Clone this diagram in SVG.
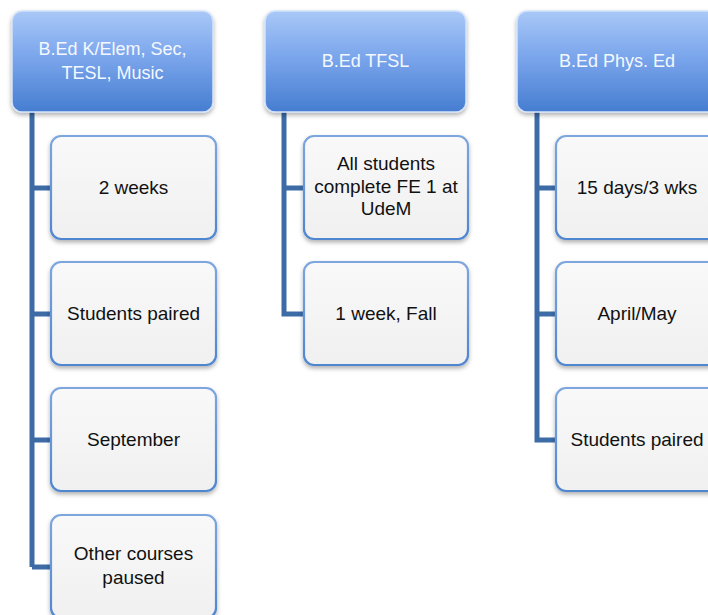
<svg xmlns="http://www.w3.org/2000/svg" width="708" height="615" viewBox="0 0 708 615">
  <defs>
    <linearGradient id="hdrFill" x1="0" y1="0" x2="0" y2="1">
      <stop offset="0" stop-color="#a9c8f7"/>
      <stop offset="0.45" stop-color="#7ba6ec"/>
      <stop offset="1" stop-color="#467dd0"/>
    </linearGradient>
    <linearGradient id="boxFill" x1="0" y1="0" x2="0" y2="1">
      <stop offset="0" stop-color="#f9f9f9"/>
      <stop offset="1" stop-color="#f0f0f0"/>
    </linearGradient>
    <linearGradient id="boxEdge" x1="0" y1="0" x2="0" y2="1">
      <stop offset="0" stop-color="#7ea6de"/>
      <stop offset="1" stop-color="#4f86d0"/>
    </linearGradient>
    <filter id="shadow" x="-10%" y="-10%" width="120%" height="130%">
      <feDropShadow dx="0" dy="2.5" stdDeviation="2" flood-color="#000" flood-opacity="0.3"/>
    </filter>
  </defs>
  <style>
    .hdr { fill: url(#hdrFill); stroke: #d4e3fa; stroke-width: 1.5; filter: url(#shadow); }
    .box { fill: url(#boxFill); stroke: url(#boxEdge); stroke-width: 2.2; filter: url(#shadow); }
    .hdr-text { font-family: "Liberation Sans", Arial, sans-serif; font-size: 18px; fill: #f4f8ff; text-anchor: middle; }
    .box-text { font-family: "Liberation Sans", Arial, sans-serif; font-size: 19px; fill: #111; text-anchor: middle; }
    .conn { fill: none; stroke: #3c6ba6; stroke-width: 5; stroke-linejoin: miter; }
  </style>

  <!-- tree connectors -->
  <g id="connectors">
    <path class="conn" d="M32,110 V567 M32,188 H52 M32,314 H52 M32,440 H52 M32,567 H52"/>
    <path class="conn" d="M284,110 V314 H305 M284,188 H305"/>
    <path class="conn" d="M537,110 V440 H557 M537,188 H557 M537,314 H557"/>
  </g>

  <!-- column 1 -->
  <g id="hdr-bed-kelem">
    <rect class="hdr" x="12" y="11" width="201" height="101" rx="10"/>
    <text class="hdr-text" x="112.5" y="55">B.Ed K/Elem, Sec,</text>
    <text class="hdr-text" x="112.5" y="79">TESL, Music</text>
  </g>
  <g id="kelem-2weeks">
    <rect class="box" x="51" y="136" width="165" height="103" rx="10"/>
    <text class="box-text" x="133.5" y="194">2 weeks</text>
  </g>
  <g id="kelem-paired">
    <rect class="box" x="51" y="262" width="165" height="103" rx="10"/>
    <text class="box-text" x="133.5" y="320">Students paired</text>
  </g>
  <g id="kelem-september">
    <rect class="box" x="51" y="388" width="165" height="103" rx="10"/>
    <text class="box-text" x="133.5" y="446">September</text>
  </g>
  <g id="kelem-paused">
    <rect class="box" x="51" y="515" width="165" height="103" rx="10"/>
    <text class="box-text" x="133.5" y="560">Other courses</text>
    <text class="box-text" x="133.5" y="584">paused</text>
  </g>

  <!-- column 2 -->
  <g id="hdr-bed-tfsl">
    <rect class="hdr" x="265" y="11" width="201" height="101" rx="10"/>
    <text class="hdr-text" x="365.5" y="67">B.Ed TFSL</text>
  </g>
  <g id="tfsl-udem">
    <rect class="box" x="304" y="136" width="164" height="103" rx="10"/>
    <text class="box-text" x="386" y="170">All students</text>
    <text class="box-text" x="386" y="193">complete FE 1 at</text>
    <text class="box-text" x="386" y="215">UdeM</text>
  </g>
  <g id="tfsl-fall">
    <rect class="box" x="304" y="262" width="164" height="103" rx="10"/>
    <text class="box-text" x="386" y="320">1 week, Fall</text>
  </g>

  <!-- column 3 -->
  <g id="hdr-bed-physed">
    <rect class="hdr" x="517" y="11" width="201" height="101" rx="10"/>
    <text class="hdr-text" x="617" y="67">B.Ed Phys. Ed</text>
  </g>
  <g id="physed-days">
    <rect class="box" x="556" y="136" width="165" height="103" rx="10"/>
    <text class="box-text" x="637" y="194">15 days/3 wks</text>
  </g>
  <g id="physed-aprilmay">
    <rect class="box" x="556" y="262" width="165" height="103" rx="10"/>
    <text class="box-text" x="637" y="320">April/May</text>
  </g>
  <g id="physed-paired">
    <rect class="box" x="556" y="388" width="165" height="103" rx="10"/>
    <text class="box-text" x="637" y="446">Students paired</text>
  </g>
</svg>
